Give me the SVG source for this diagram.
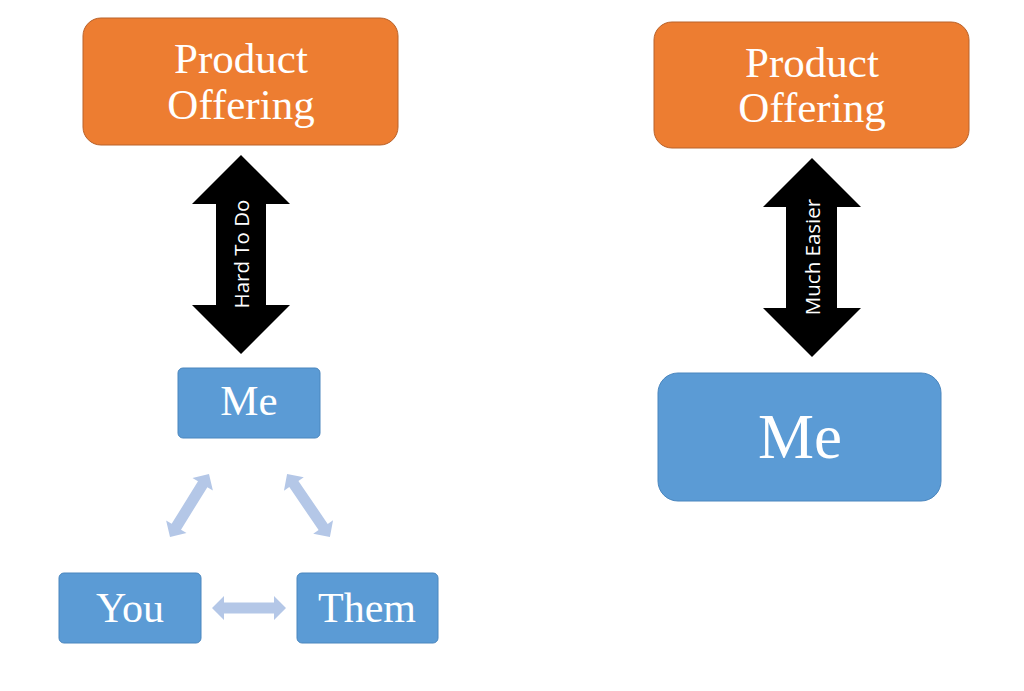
<svg xmlns="http://www.w3.org/2000/svg" width="1024" height="691" viewBox="0 0 1024 691">
<style>
.orange{fill:#ED7D31;stroke:#B9622A;stroke-width:1}
.blue{fill:#5B9BD5;stroke:#4A86BE;stroke-width:1}
.serif{font-family:"Liberation Serif","Times New Roman",serif;fill:#fff;text-anchor:middle}
.sans{font-family:"Open Sans","Liberation Sans",sans-serif;fill:#fff;text-anchor:middle;font-size:20.5px}
.big{fill:#000}
.light{fill:#B4C7E7}
</style>
<rect width="1024" height="691" fill="#fff"/>
<g id="product-left">
<rect class="orange" x="83" y="18" width="315" height="127" rx="18"/>
<text class="serif" x="241" y="73" font-size="43">Product</text>
<text class="serif" x="241" y="119" font-size="43">Offering</text>
</g>
<g id="product-right">
<rect class="orange" x="654" y="22" width="315" height="126" rx="18"/>
<text class="serif" x="812" y="77" font-size="43">Product</text>
<text class="serif" x="812" y="122" font-size="43">Offering</text>
</g>
<g id="me-left">
<rect class="blue" x="178" y="368" width="142" height="70" rx="5"/>
<text class="serif" x="249" y="415" font-size="43">Me</text>
</g>
<g id="me-right">
<rect class="blue" x="658" y="373" width="283" height="128" rx="20"/>
<text class="serif" x="800" y="458" font-size="63">Me</text>
</g>
<g id="you">
<rect class="blue" x="59" y="573" width="142" height="70" rx="5"/>
<text class="serif" x="130" y="622" font-size="42">You</text>
</g>
<g id="them">
<rect class="blue" x="297" y="573" width="141" height="70" rx="5"/>
<text class="serif" x="367" y="622" font-size="42">Them</text>
</g>
<g id="connectors">
<g id="arrow-hard">
<polygon class="big" points="241,155 290,204 266,204 266,305 290,305 241,354 192,305 216,305 216,204 192,204"/>
<text class="sans" transform="translate(249,254) rotate(-90)">Hard To Do</text>
</g>
<g id="arrow-easier">
<polygon class="big" points="812,158 861,207 837,207 837,308 861,308 812,357 763,308 786,308 786,207 763,207"/>
<text class="sans" transform="translate(820,257) rotate(-90)">Much Easier</text>
</g>
<polygon class="light" transform="translate(249,608)" points="-37,0 -25,-12 -25,-5.5 25,-5.5 25,-12 37,0 25,12 25,5.5 -25,5.5 -25,12"/>
<polygon class="light" transform="translate(189.5,505.5) rotate(-58.2)" points="-37,0 -25,-12 -25,-5.5 25,-5.5 25,-12 37,0 25,12 25,5.5 -25,5.5 -25,12"/>
<polygon class="light" transform="translate(308.5,505.5) rotate(55.7)" points="-38,0 -26,-12 -26,-5.5 26,-5.5 26,-12 38,0 26,12 26,5.5 -26,5.5 -26,12"/>
</g>
</svg>
